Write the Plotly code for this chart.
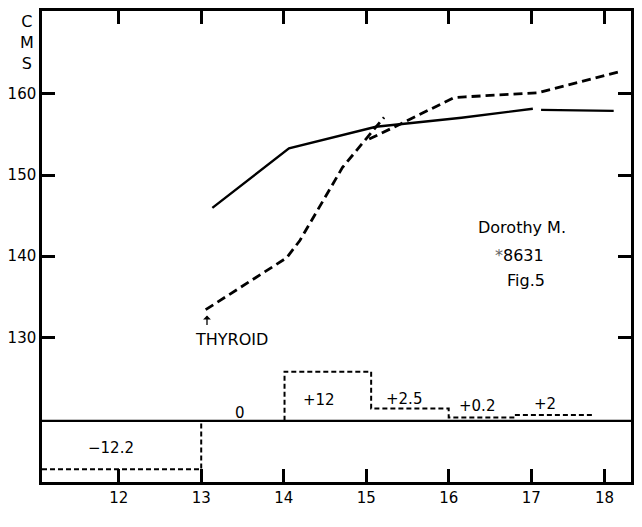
import plotly.graph_objects as go

# ---- data ----
x_range = [11.07, 18.21]
y_range = [112.2, 170.2]
y2_range = [-14.9, 99.9]

y_ticks = [130, 140, 150, 160]
x_tickvals = [12, 13, 14, 15, 16, 17, 17.89]
x_ticktext = ["12", "13", "14", "15", "16", "17", "18"]

solid_age = [13.135, 14.064, 15.118, 16.155, 17.02]
solid_cms = [145.96, 153.28, 155.95, 157.05, 158.16]
solid2_age = [17.12, 18.0]
solid2_cms = [158.03, 157.9]

dashA_age = [13.054, 14.036, 14.196, 14.713, 15.097, 15.217]
dashA_cms = [133.42, 139.81, 141.94, 150.94, 155.66, 157.09]
dashB_age = [15.036, 15.373, 16.058, 16.2, 17.077, 18.062]
dashB_cms = [154.43, 156.07, 159.51, 159.63, 160.12, 162.7]

# increment bars (heights as drawn)
neg_start, neg_end, neg_height = 11.07, 13.0, -11.8
pos_starts = [14.01, 15.06, 16.0, 16.8]
pos_ends = [15.06, 16.0, 16.8, 17.76]
pos_heights = [12.0, 3.0, 0.8, 1.4]

inc_labels = ["\u221212.2", "0", "+12", "+2.5", "+0.2", "+2"]
inc_label_x = [11.91, 13.475, 14.43, 15.46, 16.34, 17.17]
inc_label_y = [-6.7, 2.0, 5.2, 5.4, 3.6, 4.2]

FONT = "DejaVu Sans"

fig = go.Figure()

# baseline of the increment chart
fig.add_trace(go.Scatter(x=x_range, y=[0, 0], yaxis="y2", mode="lines",
                         line=dict(color="black", width=2.4), hoverinfo="skip"))

# negative bar outline
fig.add_trace(go.Scatter(x=[neg_start, neg_end, neg_end], y=[neg_height, neg_height, 0],
                         yaxis="y2", mode="lines",
                         line=dict(color="black", width=2, dash="5px,3px")))

# positive bars as stepped outline
px, py = [pos_starts[0]], [0]
for s, e, h in zip(pos_starts, pos_ends, pos_heights):
    px += [s, e]
    py += [h, h]
fig.add_trace(go.Scatter(x=px, y=py, yaxis="y2", mode="lines",
                         line=dict(color="black", width=2, dash="5px,3px")))

# growth curves
fig.add_trace(go.Scatter(x=solid_age, y=solid_cms, mode="lines",
                         line=dict(color="black", width=2.4)))
fig.add_trace(go.Scatter(x=solid2_age, y=solid2_cms, mode="lines",
                         line=dict(color="black", width=2.4)))
fig.add_trace(go.Scatter(x=dashA_age, y=dashA_cms, mode="lines",
                         line=dict(color="black", width=2.8, dash="9px,5px")))
fig.add_trace(go.Scatter(x=dashB_age, y=dashB_cms, mode="lines",
                         line=dict(color="black", width=2.8, dash="9px,5px")))

annotations = []
for t, x, y in zip(inc_labels, inc_label_x, inc_label_y):
    annotations.append(dict(x=x, y=y, xref="x", yref="y2", text=t, showarrow=False,
                            font=dict(family=FONT, size=15, color="black")))

annotations += [
    dict(x=16.888, y=143.57, xref="x", yref="y", text="Dorothy M.", showarrow=False,
         font=dict(family=FONT, size=16, color="black")),
    dict(x=16.86, y=140.09, xref="x", yref="y", text="<span style='color:#666'>*</span>8631",
         showarrow=False, font=dict(family=FONT, size=16, color="black")),
    dict(x=16.94, y=137.02, xref="x", yref="y", text="Fig.5", showarrow=False,
         font=dict(family=FONT, size=16, color="black")),
    dict(x=13.37, y=129.7, xref="x", yref="y", text="THYROID", showarrow=False,
         font=dict(family=FONT, size=16, color="black")),
    dict(x=13.07, y=132.7, xref="x", yref="y", text="", showarrow=True,
         ax=0, ay=11, arrowhead=1, arrowsize=1, arrowwidth=1.3, arrowcolor="black"),
    dict(x=-0.026, y=0.934, xref="paper", yref="paper", xanchor="center", yanchor="middle",
         text="C<br>M<br>S", showarrow=False,
         font=dict(family=FONT, size=16, color="black"), align="center"),
]

fig.update_layout(
    width=642, height=527,
    margin=dict(l=40, r=8, t=10, b=45),
    paper_bgcolor="white", plot_bgcolor="white",
    showlegend=False,
    font=dict(family=FONT, size=15, color="black"),
    xaxis=dict(range=x_range, tickvals=x_tickvals, ticktext=x_ticktext,
               ticks="inside", ticklen=13, tickwidth=2.5, tickcolor="black",
               showline=True, linewidth=2.5, linecolor="black", mirror="ticks",
               showgrid=False, zeroline=False,
               tickfont=dict(family=FONT, size=15, color="black")),
    yaxis=dict(range=y_range, tickvals=y_ticks,
               ticks="inside", ticklen=13, tickwidth=2.5, tickcolor="black",
               showline=True, linewidth=2.5, linecolor="black", mirror="ticks",
               showgrid=False, zeroline=False,
               tickfont=dict(family=FONT, size=15, color="black")),
    yaxis2=dict(range=y2_range, overlaying="y", visible=False,
                showgrid=False, zeroline=False),
    annotations=annotations,
)

fig.write_html("out.html")
